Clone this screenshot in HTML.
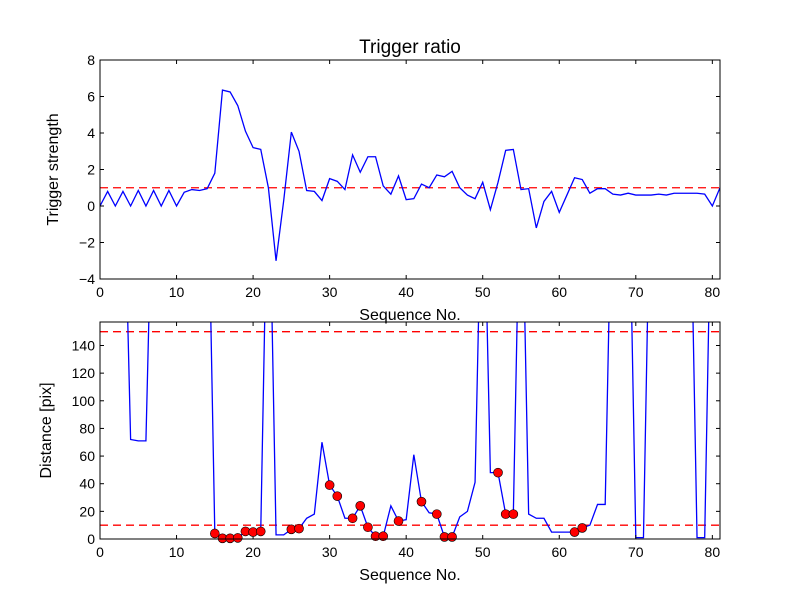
<!DOCTYPE html>
<html><head><meta charset="utf-8"><style>
body{margin:0;background:#fff}
svg{display:block;font-family:"Liberation Sans","DejaVu Sans",sans-serif}
</style></head><body>
<svg id="c" width="800" height="600" xmlns="http://www.w3.org/2000/svg">
<rect width="800" height="600" fill="#fff"/>
</svg>
<script>
const seqTop=[0,0.8,0,0.8,0,0.85,0,0.85,0,0.85,0,0.75,0.9,0.85,0.95,1.8,6.35,6.25,5.5,4.1,3.2,3.1,1.0,-3.0,0.3,4.05,3.0,0.85,0.8,0.3,1.5,1.35,0.9,2.8,1.85,2.7,2.7,1.1,0.65,1.65,0.35,0.4,1.2,1.0,1.7,1.6,1.9,1.0,0.6,0.4,1.3,-0.2,1.3,3.05,3.1,0.9,0.95,-1.2,0.25,0.8,-0.35,0.6,1.55,1.45,0.7,0.95,0.95,0.65,0.6,0.7,0.6,0.6,0.6,0.65,0.6,0.7,0.7,0.7,0.7,0.65,0,1.0];
const H=300;
const distVals=[H,H,H,H,72,71,71,H,H,H,H,H,H,H,H,4,0.5,0.5,0.8,5.5,5,5.5,H,3,3,7,7.5,15,18,70,39,31,15,15,24,8.5,2,2,24,13,14,61,27,19,18,1.5,1.5,16,20,41,H,48,48,18,18,H,18,15,15,5,5,5,5,8,10,25,25,H,H,H,1,1,H,H,H,H,H,H,1,1,H,H];
const markedIdx=[15,16,17,18,19,20,21,25,26,30,31,33,34,35,36,37,39,42,44,45,46,52,53,54,62,63];
const topYTicks=[-4,-2,0,2,4,6,8];
const botYTicks=[0,20,40,60,80,100,120,140];
const xTicks=[0,10,20,30,40,50,60,70,80];
const topThreshold=1, botThresholds=[10,150];

const NS="http://www.w3.org/2000/svg";
const svg=document.getElementById('c');
function mk(t,a,p){const e=document.createElementNS(NS,t);for(const k in a)e.setAttribute(k,a[k]);(p||svg).appendChild(e);return e;}
const L=100,R=720,XMAX=81;
const sx=v=>L+(R-L)*v/XMAX;

function axes(name,T,B,ymin,ymax,yt,ylabel,title,yoff){
  const sy=v=>B-(B-T)*(v-ymin)/(ymax-ymin);
  const g=mk('g',{});
  
  
  const clipId=name+'-clip';
  const cp=mk('clipPath',{id:clipId},g);mk('rect',{x:L,y:T,width:R-L,height:B-T},cp);
  const plot=mk('g',{'clip-path':'url(#'+clipId+')'},g);
  xTicks.forEach(v=>{const x=sx(v);
    mk('line',{x1:x,x2:x,y1:B,y2:B-4,stroke:'#000'},g);
    mk('line',{x1:x,x2:x,y1:T,y2:T+4,stroke:'#000'},g);
    const tx=mk('text',{x:x,y:B+18,'font-size':14,'text-anchor':'middle'},g);tx.textContent=v;
    
    
  });
  yt.forEach(v=>{const y=sy(v);
    mk('line',{x1:L,x2:L+4,y1:y,y2:y,stroke:'#000'},g);
    mk('line',{x1:R,x2:R-4,y1:y,y2:y,stroke:'#000'},g);
    const tx=mk('text',{x:L-5,y:y+5,'font-size':14,'text-anchor':'end'},g);tx.textContent=(v<0?'\u2212'+(-v):v);
    
    
  });
  const xl=mk('text',{x:(L+R)/2,y:B+41,'font-size':16,'text-anchor':'middle'},g);xl.textContent='Sequence No.';
  
  
  const yl=mk('text',{x:0,y:0,'font-size':16,'text-anchor':'middle',transform:`translate(${L-yoff},${(T+B)/2}) rotate(-90)`},g);yl.textContent=ylabel;
  
  
  if(title){const tt=mk('text',{x:(L+R)/2,y:T-7,'font-size':19,'text-anchor':'middle'},g);tt.textContent=title;
    
    }
  return {sy,plot,g,T,B};
}

const a1=axes('top-axes',60,279,-4,8,topYTicks,'Trigger strength','Trigger ratio',42);
const th1=mk('line',{x1:L,x2:R,y1:a1.sy(topThreshold),y2:a1.sy(topThreshold),stroke:'#f00','stroke-width':1.3,'stroke-dasharray':'8,5'},a1.plot);


const p1=mk('polyline',{points:seqTop.map((v,i)=>sx(i)+','+a1.sy(v)).join(' '),fill:'none',stroke:'#00f','stroke-width':1.3},a1.plot);


mk('rect',{x:L,y:60,width:R-L,height:219,fill:'none',stroke:'#000'},a1.g);

const a2=axes('bottom-axes',322,539,0,157,botYTicks,'Distance [pix]',null,49);
botThresholds.forEach(t=>{const l=mk('line',{x1:L,x2:R,y1:a2.sy(t),y2:a2.sy(t),stroke:'#f00','stroke-width':1.3,'stroke-dasharray':'8,5'},a2.plot);
  
  });
const p2=mk('polyline',{points:distVals.map((v,i)=>sx(i)+','+a2.sy(v)).join(' '),fill:'none',stroke:'#00f','stroke-width':1.3},a2.plot);


markedIdx.forEach(i=>{const c=mk('circle',{cx:sx(i),cy:a2.sy(distVals[i]),r:4.5,fill:'#f00',stroke:'#000','stroke-width':0.6},a2.g);
  
  });
mk('rect',{x:L,y:322,width:R-L,height:217,fill:'none',stroke:'#000'},a2.g);
</script>
</body></html>
